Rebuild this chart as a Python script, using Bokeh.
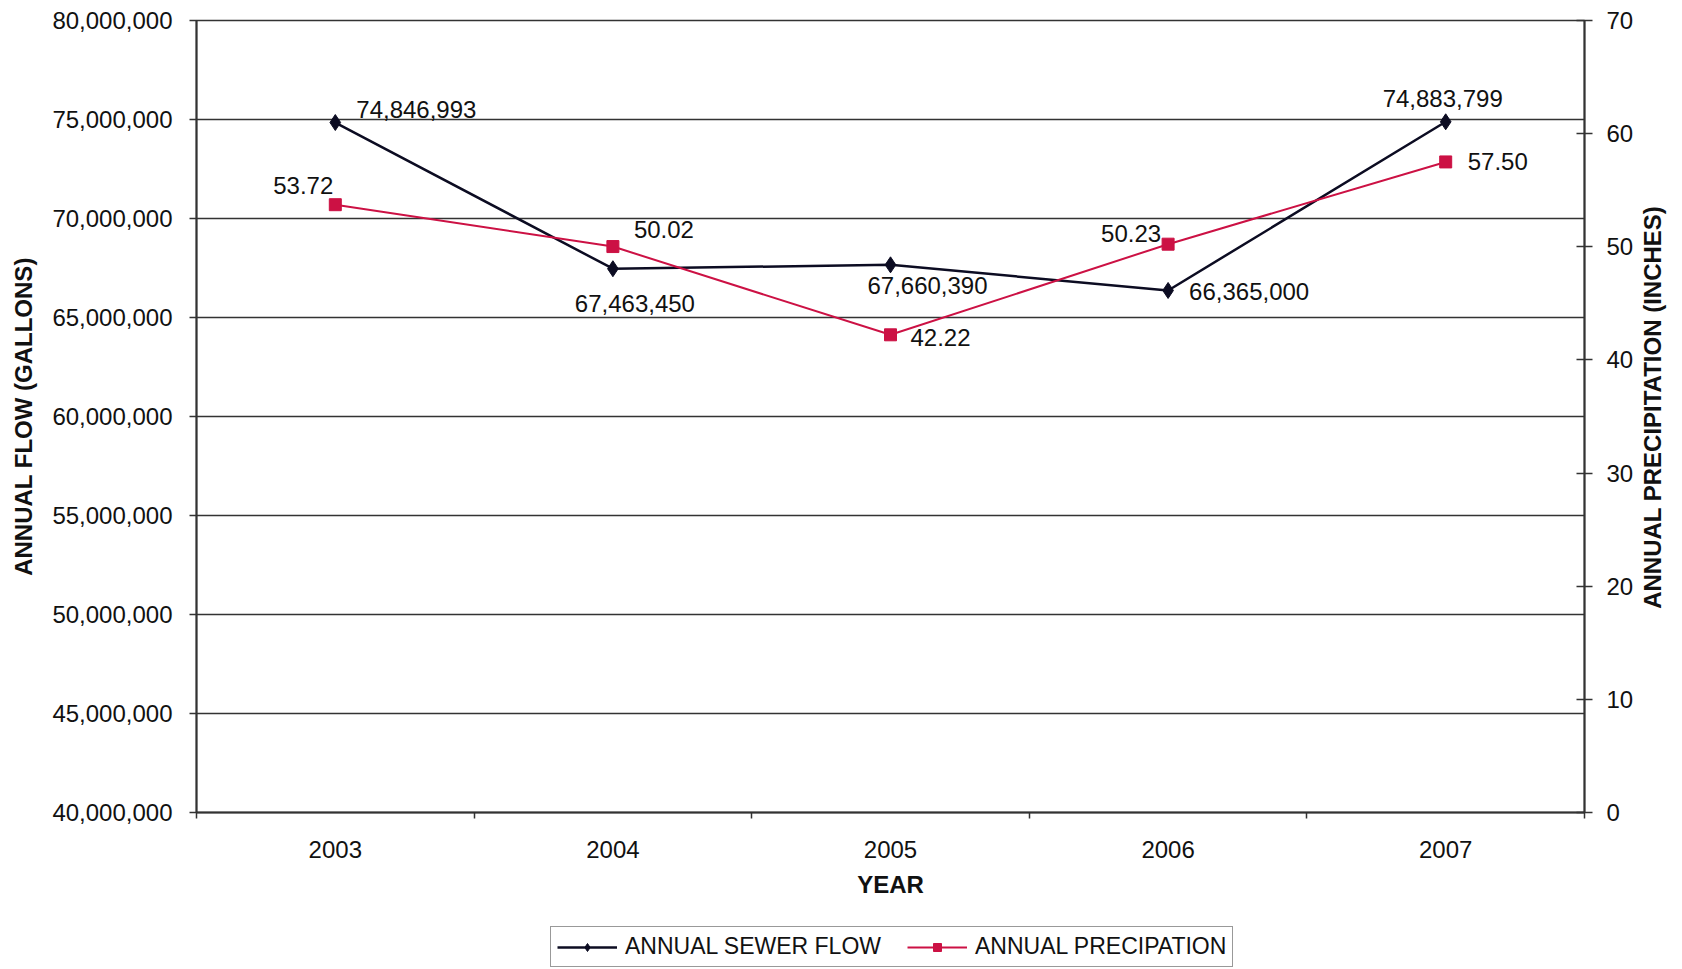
import math
from bokeh.plotting import figure
from bokeh.layouts import column
from bokeh.models import (Range1d, LinearAxis, FixedTicker, NumeralTickFormatter,
                          Legend, LegendItem, ColumnDataSource)
from bokeh.core.properties import value
from bokeh.embed import file_html
from bokeh.resources import INLINE

# ---- data ----
years = [2003, 2004, 2005, 2006, 2007]
sewer_flow = [74846993, 67463450, 67660390, 66365000, 74883799]
precipitation = [53.72, 50.02, 42.22, 50.23, 57.50]
flow_ticks = [40000000, 45000000, 50000000, 55000000, 60000000,
              65000000, 70000000, 75000000, 80000000]
precip_ticks = [0, 10, 20, 30, 40, 50, 60, 70]
series_names = ["ANNUAL SEWER FLOW", "ANNUAL PRECIPATION"]

# ---- label placement (styles, screen px) ----
flow_lbl_align = ["left", "center", "center", "left", "center"]
flow_lbl_dx = [21, 22, 37, 21, -3]
flow_lbl_dy = [-13, 35, 21, 1, -23]
prec_lbl_align = ["right", "left", "left", "right", "left"]
prec_lbl_dx = [-2, 21, 20, -7, 22]
prec_lbl_dy = [-19, -17, 3, -11, 0]

FONT = "Liberation Sans"
TXT = "#111111"
FLOW_C = "#0c0c22"
PREC_C = "#cc1144"
GRID_C = "#333333"
W = 1682

p = figure(width=W, height=920, output_backend="svg", toolbar_location=None,
           x_range=Range1d(2002.5, 2007.5), y_range=Range1d(40000000, 80000000),
           min_border_left=196, min_border_right=98, min_border_top=20,
           min_border_bottom=108)
p.background_fill_color = "white"
p.border_fill_color = "white"
p.outline_line_color = GRID_C
p.outline_line_width = 1.5

p.extra_y_ranges = {"precip": Range1d(0, 70)}

# x axis
xa = p.xaxis[0]
xa.ticker = FixedTicker(ticks=years, minor_ticks=[2002.5, 2003.5, 2004.5, 2005.5, 2006.5, 2007.5])
xa.major_tick_out = 0
xa.major_tick_in = 0
xa.minor_tick_out = 6
xa.minor_tick_in = 0
xa.minor_tick_line_color = GRID_C
xa.minor_tick_line_width = 1.5
xa.axis_line_color = GRID_C
xa.axis_line_width = 2
xa.major_label_text_font = FONT
xa.major_label_text_font_size = "24px"
xa.major_label_text_color = TXT
xa.major_label_standoff = 22
xa.axis_label = "YEAR"
xa.axis_label_text_font = FONT
xa.axis_label_text_font_size = "24px"
xa.axis_label_text_font_style = "bold"
xa.axis_label_text_color = TXT
xa.axis_label_standoff = 10

# left axis
ya = p.yaxis[0]
ya.ticker = FixedTicker(ticks=flow_ticks)
ya.formatter = NumeralTickFormatter(format="0,0")
ya.major_tick_out = 7
ya.major_tick_in = 0
ya.minor_tick_out = 0
ya.minor_tick_in = 0
ya.major_tick_line_color = GRID_C
ya.major_tick_line_width = 1.5
ya.axis_line_color = GRID_C
ya.axis_line_width = 2
ya.major_label_text_font = FONT
ya.major_label_text_font_size = "24px"
ya.major_label_text_color = TXT
ya.major_label_standoff = 17
ya.axis_label = "ANNUAL FLOW (GALLONS)"
ya.axis_label_text_font = FONT
ya.axis_label_text_font_size = "24px"
ya.axis_label_text_font_style = "bold"
ya.axis_label_text_color = TXT
ya.axis_label_standoff = 12

# right axis
ra = LinearAxis(y_range_name="precip", ticker=FixedTicker(ticks=precip_ticks))
ra.major_tick_out = 8
ra.major_tick_in = 8
ra.minor_tick_out = 0
ra.minor_tick_in = 0
ra.major_tick_line_color = GRID_C
ra.major_tick_line_width = 1.5
ra.axis_line_color = GRID_C
ra.axis_line_width = 2
ra.major_label_text_font = FONT
ra.major_label_text_font_size = "24px"
ra.major_label_text_color = TXT
ra.major_label_standoff = 14
p.add_layout(ra, "right")

# right-axis title, reading bottom-to-top, drawn as a rotated tick label
RIGHT_TITLE_ANCHOR = 18
rt = LinearAxis(y_range_name="precip",
                ticker=FixedTicker(ticks=[RIGHT_TITLE_ANCHOR], minor_ticks=[]),
                major_label_overrides={RIGHT_TITLE_ANCHOR: "ANNUAL PRECIPITATION (INCHES)"})
rt.axis_line_color = None
rt.major_tick_out = 0
rt.major_tick_in = 0
rt.minor_tick_out = 0
rt.minor_tick_in = 0
rt.major_label_orientation = math.pi / 2
rt.major_label_text_font = FONT
rt.major_label_text_font_size = "24px"
rt.major_label_text_font_style = "bold"
rt.major_label_text_color = TXT
rt.major_label_standoff = 16
p.add_layout(rt, "right")

p.xgrid.visible = False
p.ygrid.ticker = FixedTicker(ticks=flow_ticks)
p.ygrid.grid_line_color = GRID_C
p.ygrid.grid_line_width = 1.5

flow_src = ColumnDataSource(dict(
    x=years, y=sewer_flow,
    lbl=[f"{v:,}" for v in sewer_flow],
    align=flow_lbl_align, dx=flow_lbl_dx, dy=flow_lbl_dy))
prec_src = ColumnDataSource(dict(
    x=years, y=precipitation,
    lbl=[f"{v:.2f}" for v in precipitation],
    align=prec_lbl_align, dx=prec_lbl_dx, dy=prec_lbl_dy))

p.line("x", "y", source=flow_src, line_color=FLOW_C, line_width=2.5)
p.scatter("x", "y", source=flow_src, marker="diamond", size=16,
          fill_color=FLOW_C, line_color=FLOW_C)
p.line("x", "y", source=prec_src, line_color=PREC_C, line_width=2,
       y_range_name="precip")
p.scatter("x", "y", source=prec_src, marker="square", size=12,
          fill_color=PREC_C, line_color=PREC_C, y_range_name="precip")

p.text("x", "y", text="lbl", source=flow_src, text_align="align",
       text_baseline="middle", x_offset="dx", y_offset="dy",
       text_font=value(FONT), text_font_size="24px", text_color=TXT)
p.text("x", "y", text="lbl", source=prec_src, text_align="align",
       text_baseline="middle", x_offset="dx", y_offset="dy",
       text_font=value(FONT), text_font_size="24px", text_color=TXT,
       y_range_name="precip")

# ---- legend strip (second figure below the chart; its frame aligns with the chart's) ----
lg = figure(width=W, height=48, output_backend="svg", toolbar_location=None,
            x_axis_type=None, y_axis_type=None, min_border=0,
            x_range=Range1d(0, 1), y_range=Range1d(0, 1))
lg.outline_line_color = None
lg.grid.visible = False
lg.background_fill_color = "white"
lg.border_fill_color = "white"
# same series, outside this strip's ranges: only their legend swatches show
l1 = lg.line("x", "y", source=flow_src, line_color=FLOW_C, line_width=2.5)
m1 = lg.scatter("x", "y", source=flow_src, marker="diamond", size=13,
                fill_color=FLOW_C, line_color=FLOW_C)
l2 = lg.line("x", "y", source=prec_src, line_color=PREC_C, line_width=2)
m2 = lg.scatter("x", "y", source=prec_src, marker="square", size=10,
                fill_color=PREC_C, line_color=PREC_C)

legend = Legend(items=[
    LegendItem(label=series_names[0], renderers=[l1, m1]),
    LegendItem(label=series_names[1], renderers=[l2, m2]),
], orientation="horizontal", location=(354, 1))
legend.label_text_font = FONT
legend.label_text_font_size = "23px"
legend.label_text_color = TXT
legend.glyph_width = 60
legend.glyph_height = 20
legend.label_height = 20
legend.label_standoff = 8
legend.spacing = 26
legend.padding = 6
legend.margin = 0
legend.border_line_color = GRID_C
legend.border_line_width = 1.5
legend.background_fill_alpha = 1
lg.add_layout(legend, "center")

layout = column(p, lg, spacing=0)
open("out.html", "w").write(file_html(layout, INLINE))
